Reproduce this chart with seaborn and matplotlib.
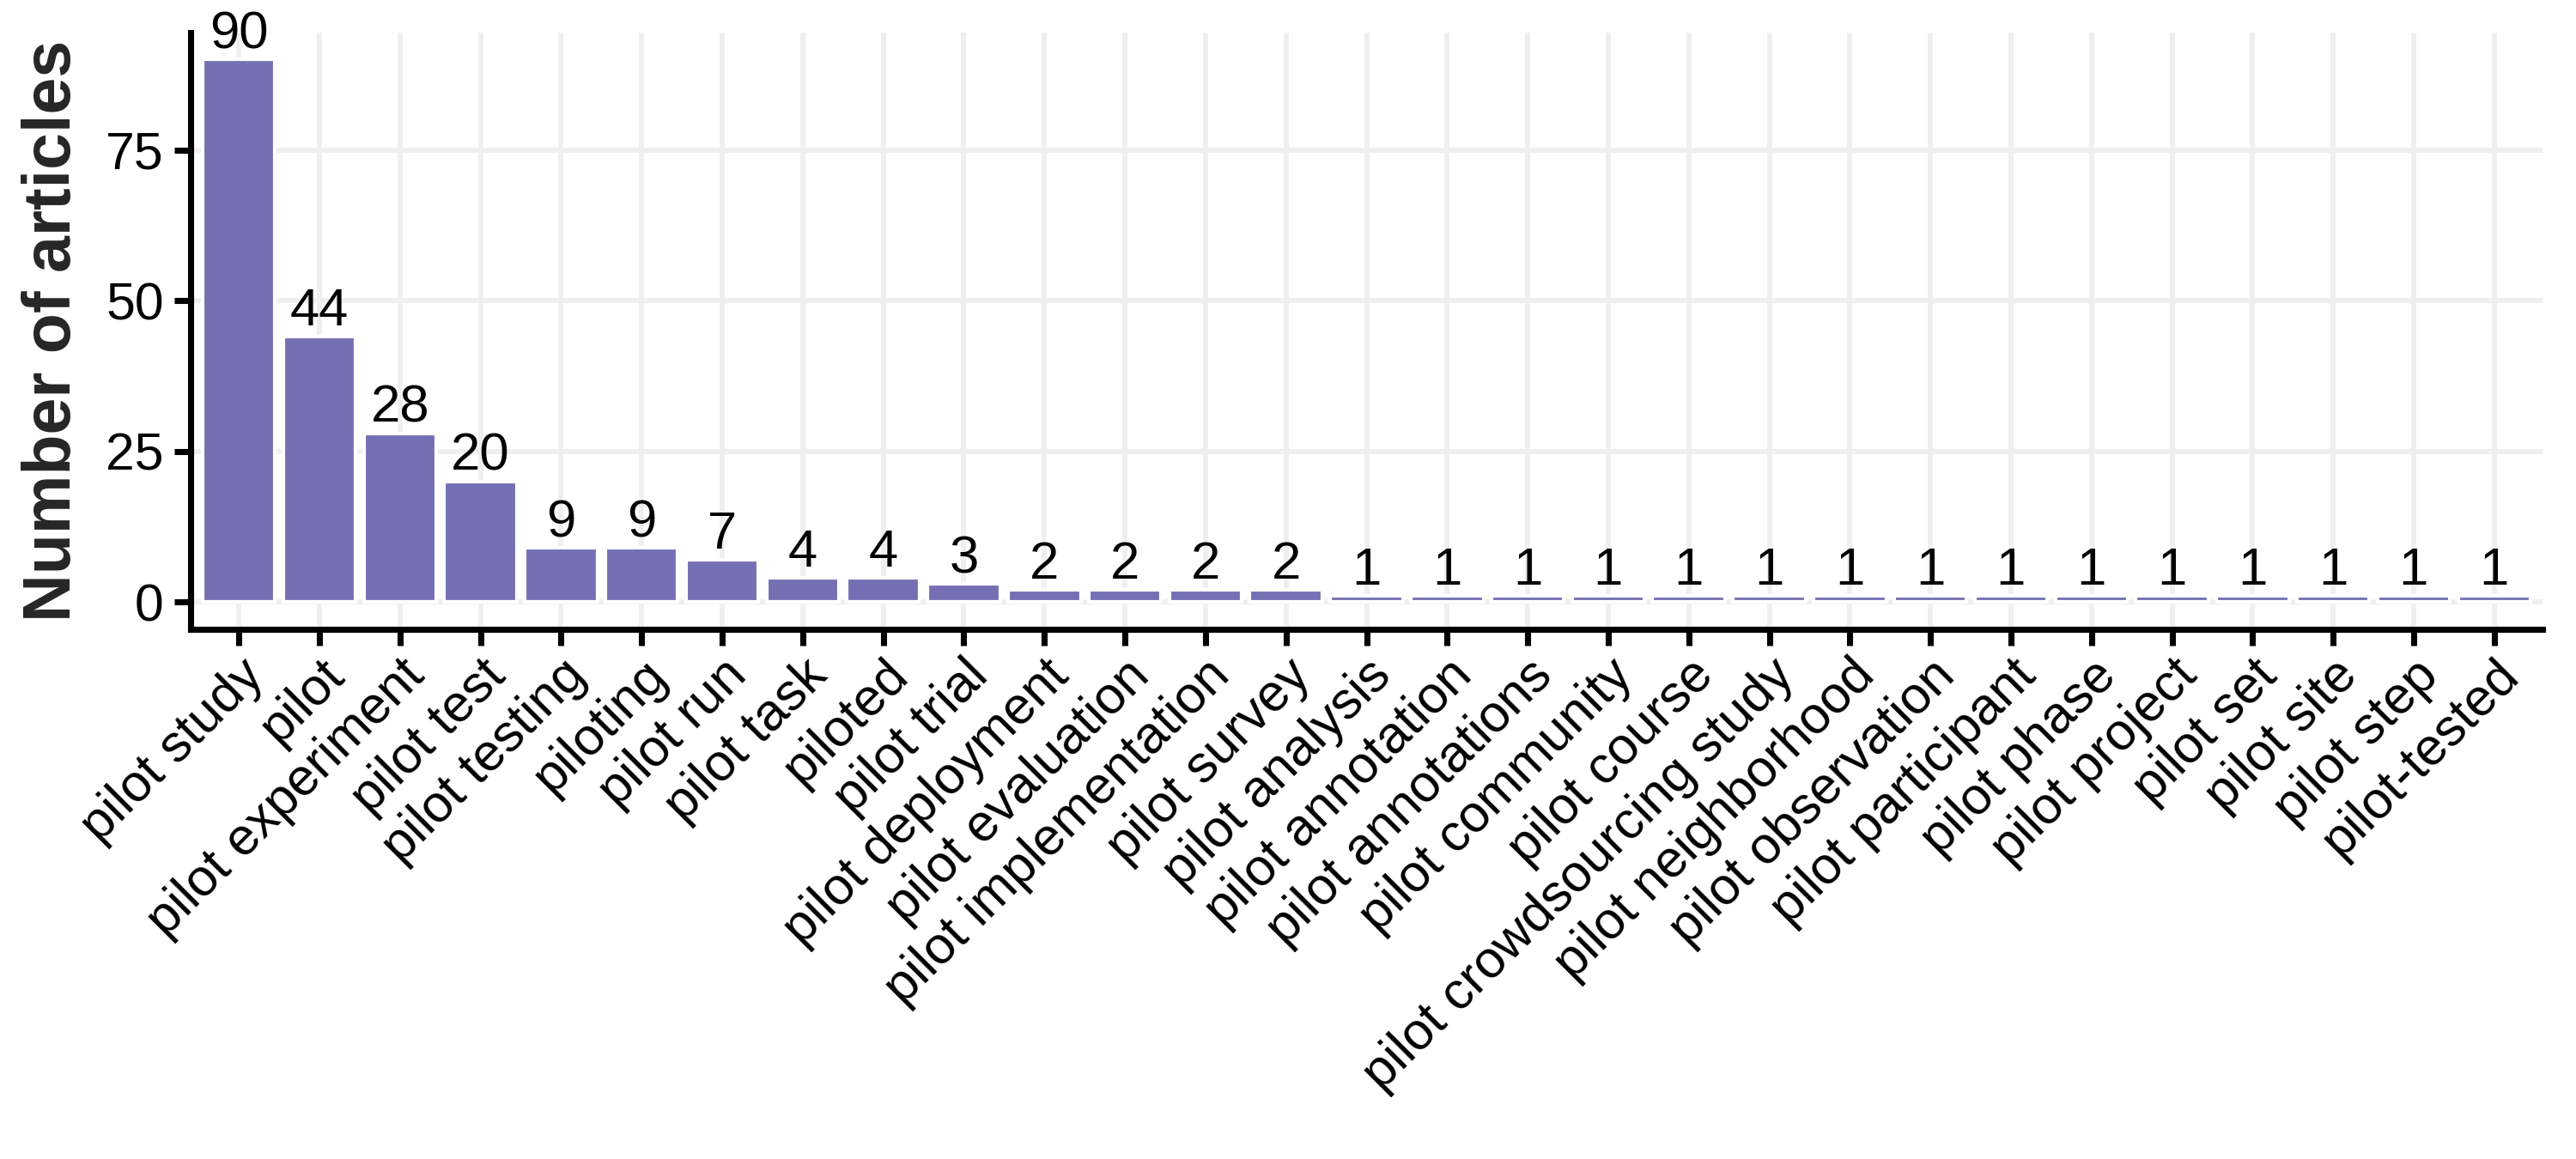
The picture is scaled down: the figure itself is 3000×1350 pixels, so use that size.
import pandas as pd
import matplotlib
matplotlib.use("Agg")
import matplotlib.pyplot as plt
import seaborn as sns

sns.set_style("ticks")
plt.rcParams['font.family'] = ['Liberation Sans', 'DejaVu Sans']

# Data
terms = ["pilot study", "pilot", "pilot experiment", "pilot test", "pilot testing",
         "piloting", "pilot run", "pilot task", "piloted", "pilot trial",
         "pilot deployment", "pilot evaluation", "pilot implementation", "pilot survey",
         "pilot analysis", "pilot annotation", "pilot annotations", "pilot community",
         "pilot course", "pilot crowdsourcing study", "pilot neighborhood",
         "pilot observation", "pilot participant", "pilot phase", "pilot project",
         "pilot set", "pilot site", "pilot step", "pilot-tested"]
counts = [90, 44, 28, 20, 9, 9, 7, 4, 4, 3, 2, 2, 2, 2,
          1, 1, 1, 1, 1, 1, 1, 1, 1, 1, 1, 1, 1, 1, 1]
y_ticks = [0, 25, 50, 75]

df = pd.DataFrame({"term": terms, "count": counts})

fig = plt.figure(figsize=(10, 4.5), dpi=300)
ax = fig.add_axes([0.074, 0.457, 0.913, 0.515])

sns.barplot(data=df, x="term", y="count", order=terms, color="#7570B3",
            saturation=1, width=0.9, ax=ax, zorder=3)

for c in ax.containers:
    ax.bar_label(c, fmt="%d", padding=0, fontsize=14.8, color="black")

ax.set_xlim(-0.6, len(terms) - 0.4)
ax.set_ylim(-4.5, 94.5)
ax.set_yticks(y_ticks)

ax.grid(True, color="#EFEFEF", linewidth=1.4, zorder=0)
ax.set_axisbelow(True)

for side in ["top", "right"]:
    ax.spines[side].set_visible(False)
for side in ["left", "bottom"]:
    ax.spines[side].set_linewidth(1.7)
    ax.spines[side].set_color("black")

ax.tick_params(axis="both", length=4.5, width=1.7, color="black",
               labelsize=14.6, labelcolor="black")
ax.tick_params(axis="y", pad=3)
ax.tick_params(axis="x", pad=1.5)
plt.setp(ax.get_xticklabels(), rotation=45, ha="right", va="top",
         rotation_mode="anchor")

ax.set_xlabel("")
ax.set_ylabel("Number of articles", fontsize=18.5, fontweight="bold", labelpad=6)

fig.savefig("out.png", dpi=300)
